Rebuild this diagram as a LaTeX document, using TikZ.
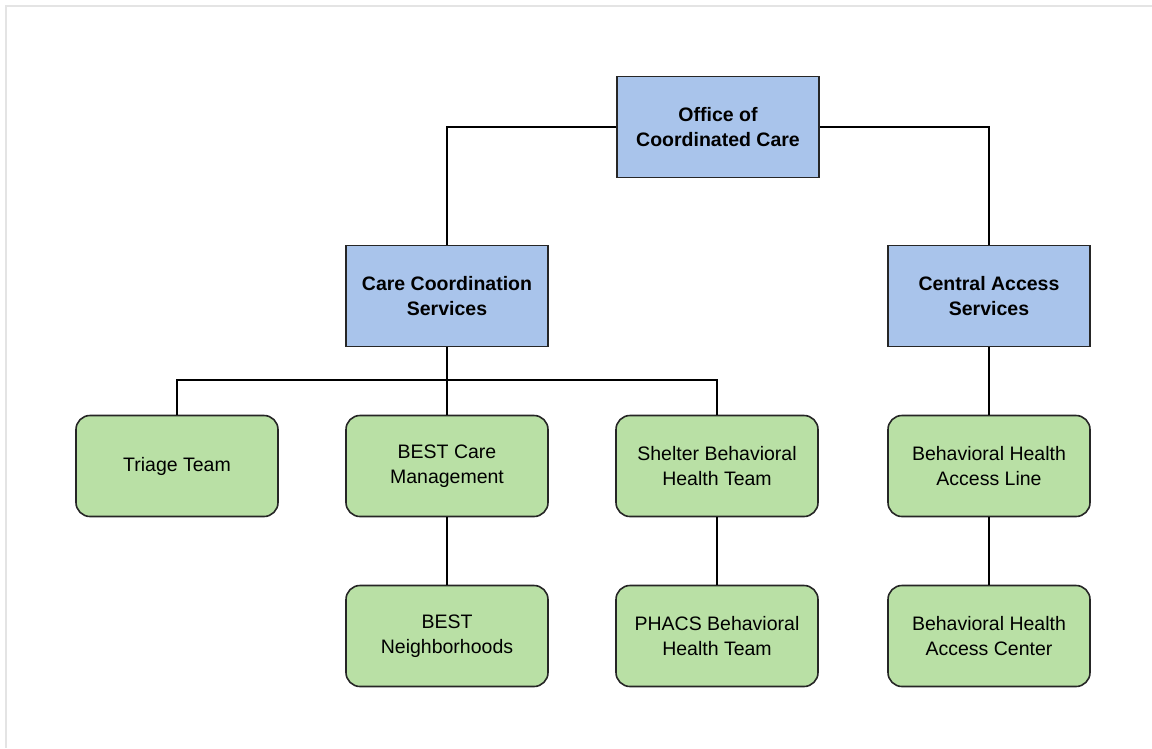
\documentclass[tikz,border=0pt]{standalone}
\usepackage{fontspec}
\setmainfont{Liberation Sans}
\usepackage{xcolor}
\usetikzlibrary{positioning}
\definecolor{unitblue}{HTML}{A9C4EB}
\definecolor{teamgreen}{HTML}{B9E0A5}
\definecolor{framegray}{HTML}{E4E4E4}

\begin{document}
\begin{tikzpicture}[x=1pt, y=-1pt,
				line width=1.6pt,
				unit/.style={draw=black!85, fill=unitblue, minimum width=202pt, minimum height=101pt,
					align=center, font=\fontsize{19.5}{25}\selectfont\bfseries},
				team/.style={draw=black!85, fill=teamgreen, rounded corners=14pt, minimum width=202pt,
					minimum height=101pt, align=center, font=\fontsize{19.5}{25}\selectfont}]
				\useasboundingbox (0,0) rectangle (1152,748);
				\draw[framegray, line width=2pt] (6,748) -- (6,6) -- (1152,6);
				\node at (718,127) (office) [unit] {Office of\\Coordinated Care};
				\node at (447,296) (care) [unit] {Care Coordination\\Services};
				\node at (989,296) (central) [unit] {Central Access\\Services};
				\node at (177,466) (triage) [team] {Triage Team};
				\node at (447,466) (best) [team] {BEST Care\\Management};
				\node at (717,466) (shelter) [team] {Shelter Behavioral\\Health Team};
				\node at (989,466) (line) [team] {Behavioral Health\\Access Line};
				\node at (447,636) (hoods) [team] {BEST\\Neighborhoods};
				\node at (717,636) (phacs) [team] {PHACS Behavioral\\Health Team};
				\node at (989,636) (center) [team] {Behavioral Health\\Access Center};
				\coordinate (bus) at (447,380);
				\draw (office.west) -| (care.north);
				\draw (office.east) -| (central.north);
				\draw (care.south) -- (best.north);
				\draw (bus) -| (triage.north);
				\draw (bus) -| (shelter.north);
				\draw (central.south) -- (line.north);
				\draw (best.south) -- (hoods.north);
				\draw (shelter.south) -- (phacs.north);
				\draw (line.south) -- (center.north);
			\end{tikzpicture}
\end{document}
